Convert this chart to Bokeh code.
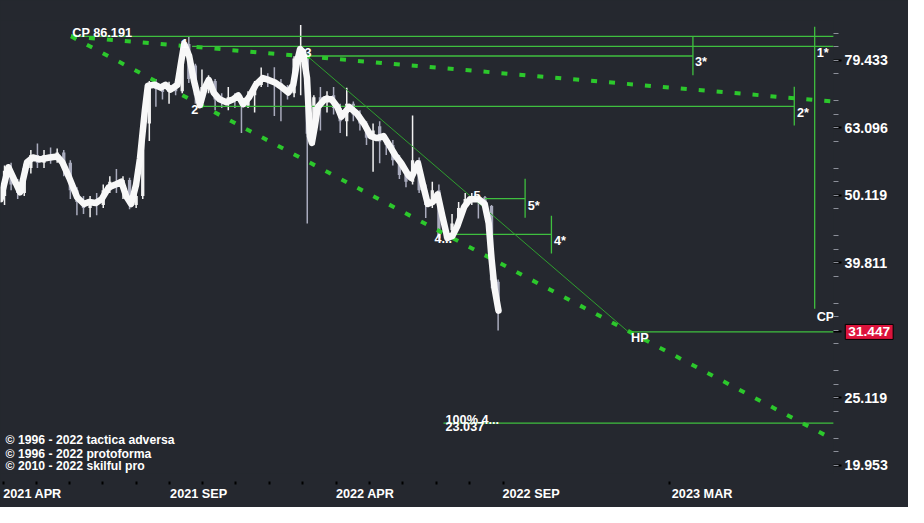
from bokeh.plotting import figure
from bokeh.models import Range1d, FixedTicker, PrintfTickFormatter, Label, ColumnDataSource
from bokeh.core.properties import value
from bokeh.embed import file_html
from bokeh.resources import INLINE

# ---------------- data (weekly bars, x = bar index) ----------------
opens = [50.0, 54.5, 52.0, 50.5, 55.0, 57.5, 56.0, 57.5, 56.5, 58.0,
         56.0, 51.0, 49.0, 48.0, 49.3, 48.5, 51.0, 52.5, 51.5, 52.8,
         48.5, 50.0, 64.0, 73.0, 72.0, 71.3, 72.8, 71.5, 84.0, 78.0,
         70.5, 72.0, 74.0, 69.5, 69.0, 70.0, 69.5, 68.0, 70.5, 73.0,
         74.5, 74.0, 73.5, 72.0, 71.0, 79.0, 80.0, 61.8, 70.0, 69.0,
         70.5, 67.5, 64.5, 68.5, 66.0, 64.0, 61.0, 63.4, 60.2, 59.5,
         56.8, 53.7, 52.5, 56.5, 51.0, 48.5, 51.0, 43.3, 44.5, 45.5,
         48.0, 49.5, 49.8, 49.8, 48.3, 37.3]
highs = [55.5, 56.0, 53.0, 55.8, 58.5, 59.8, 58.5, 59.0, 58.8, 58.5,
         56.5, 51.5, 50.0, 50.0, 50.5, 52.0, 53.5, 54.8, 53.5, 53.2,
         51.0, 64.5, 74.0, 74.5, 73.5, 73.8, 74.0, 84.8, 86.0, 78.5,
         77.0, 75.5, 74.5, 71.0, 72.5, 71.0, 70.5, 71.5, 74.0, 77.5,
         76.0, 77.6, 74.5, 73.0, 80.5, 89.6, 81.0, 70.5, 72.5, 71.5,
         72.5, 68.5, 72.3, 69.0, 67.0, 64.5, 64.0, 64.5, 61.5, 60.5,
         57.5, 55.0, 65.8, 57.0, 52.0, 52.5, 52.0, 45.5, 47.0, 49.0,
         50.5, 50.5, 50.3, 50.0, 48.5, 37.6]
lows = [48.5, 51.0, 49.5, 50.0, 54.0, 55.0, 55.0, 55.8, 56.0, 53.5,
        49.5, 46.8, 47.0, 46.5, 46.8, 48.0, 50.5, 50.5, 49.5, 47.8,
        48.0, 49.5, 60.3, 67.8, 69.5, 68.5, 70.5, 71.0, 73.5, 68.5,
        69.5, 71.0, 67.0, 67.5, 67.0, 67.5, 62.0, 67.5, 66.5, 72.5,
        72.5, 65.7, 64.5, 69.5, 70.0, 70.5, 45.5, 59.5, 62.5, 66.5,
        66.0, 62.0, 61.3, 64.5, 62.5, 59.5, 54.3, 55.9, 57.5, 55.5,
        53.0, 51.5, 52.0, 50.5, 46.4, 48.0, 43.0, 43.0, 43.8, 45.0,
        47.5, 48.5, 46.3, 48.3, 36.5, 31.6]
closes = [54.5, 52.0, 50.5, 55.0, 57.5, 56.0, 57.5, 56.5, 58.0, 56.0,
          51.0, 49.0, 48.0, 49.3, 48.5, 51.0, 52.5, 51.5, 52.8, 48.5,
          50.0, 64.0, 73.0, 72.0, 71.3, 72.8, 71.5, 84.0, 74.5, 70.5,
          72.5, 74.0, 69.5, 69.0, 70.0, 69.5, 68.0, 70.5, 73.0, 74.5,
          74.0, 73.5, 72.0, 71.0, 79.9, 80.5, 61.8, 70.0, 69.0, 70.5,
          67.5, 64.5, 68.5, 66.0, 64.0, 61.0, 62.5, 60.2, 59.5, 56.5,
          53.7, 52.5, 56.5, 51.0, 48.5, 51.0, 43.3, 44.5, 45.5, 48.0,
          49.5, 49.8, 49.0, 48.5, 37.5, 33.5]
bars = list(range(len(closes)))

# smoothed price curve (bar position, price)
smooth_x = [-0.61, 0.58, 2.37, 3.42, 4.31, 5.36, 6.85, 8.04, 8.79, 9.84,
            11.03, 12.07, 12.82, 13.87, 14.76, 15.81, 16.85, 17.75, 18.49, 19.24,
            19.99, 20.58, 21.33, 21.78, 22.82, 23.72, 24.46, 25.21, 26.28, 26.85,
            27.30, 28.04, 28.79, 29.69, 30.43, 31.03, 31.78, 32.67, 33.72, 34.76,
            35.51, 36.25, 37.15, 38.19, 39.24, 40.13, 41.18, 42.22, 43.12, 43.87,
            44.46, 44.91, 45.36, 45.96, 46.40, 46.70, 47.15, 47.60, 48.64, 49.69,
            50.58, 51.18, 52.37, 53.57, 54.61, 55.66, 56.55, 57.60, 58.34, 59.39,
            60.28, 61.33, 61.78, 62.82, 63.57, 64.31, 65.06, 65.81, 66.55, 67.30,
            68.04, 68.79, 69.84, 70.73, 72.07, 72.96, 73.57, 74.01, 74.46, 75.06]
smooth_p = [49.46, 55.16, 50.62, 56.08, 57.02, 56.64, 57.02, 57.21, 56.08, 53.19,
            49.79, 48.65, 48.97, 48.81, 49.46, 51.46, 51.98, 52.49, 49.95, 48.65,
            51.98, 56.83, 67.05, 72.83, 73.07, 72.35, 73.07, 71.87, 73.07, 79.09,
            83.94, 80.68, 74.04, 68.17, 72.35, 74.29, 71.16, 69.53, 68.85, 69.53,
            70.46, 68.39, 69.99, 73.07, 74.78, 74.29, 73.55, 72.35, 71.16, 73.07,
            79.09, 82.56, 81.75, 74.78, 61.33, 59.92, 63.39, 67.72, 69.53, 69.53,
            67.72, 65.52, 67.72, 66.17, 64.02, 61.33, 60.92, 61.33, 59.72, 57.40,
            55.90, 53.72, 53.19, 55.90, 51.98, 48.65, 48.97, 50.28, 46.60, 43.32,
            43.61, 45.08, 48.17, 49.46, 49.46, 48.65, 45.53, 40.28, 36.47, 33.81]

# wave points / projection levels
cp_x, cp_price = 10.1, 86.191
level_names = ["CP", "1", "3", "2", "5", "4", "HP", "100%"]
level_price = [86.191, 83.30, 80.60, 67.86, 49.56, 43.85, 31.447, 23.037]
level_from = [10.1, 28.5, 46.0, 29.7, 73.0, 68.0, 94.8, 66.7]
level_to = [126.0, 126.0, 104.6, 120.0, 79.1, 83.1, 126.0, 126.0]

target_names = ["1*", "3*", "2*", "5*", "4*"]
target_x = [123.1, 104.6, 120.0, 79.1, 83.1]
target_hi = [89.08, 86.19, 72.57, 53.01, 46.75]
target_lo = [34.02, 75.50, 63.59, 46.44, 41.09]

trend_x0, trend_p0, trend_x1, trend_p1 = 46.0, 80.60, 94.8, 31.447
fan_end_x = 126.0
fan_end_p = [69.0, 21.77]

last_price = 31.447
target_100 = 23.037

x_tick_labels = ["2021 APR", "2021 SEP", "2022 APR", "2022 SEP", "2023 MAR"]
x_label_pos = [4.25, 29.5, 54.8, 80.0, 106.0]
x_minor_pos = [-0.2, 4.8, 9.9, 14.9, 20.0, 25.1, 30.1, 35.1, 40.2, 45.3, 50.4,
               55.4, 60.5, 65.6, 70.7, 75.8, 101.0]
y_tick_values = [19.953, 25.119, 31.447, 39.811, 50.119, 63.096, 79.433]

copyright_lines = ["© 1996 - 2022 tactica adversa",
                   "© 1996 - 2022 protoforma",
                   "© 2010 - 2022 skilful pro"]
copyright_y = [21.72, 20.75, 19.87]

# ---------------- styling ----------------
BG = "#25282f"
GREEN = "#3fbf3f"
GREEN_DASH = "#2cc82c"
GREEN_DARK = "#2f9f2f"
UP = "#f2f2f2"
DOWN = "#a9abbd"
FONT = "Liberation Sans"

p = figure(width=908, height=507,
           x_range=Range1d(-0.612, 125.96), y_range=Range1d(19.40, 90.98),
           y_axis_type="log", y_axis_location="right",
           output_backend="svg", toolbar_location=None,
           min_border_left=0, min_border_top=20, min_border_right=75, min_border_bottom=34,
           background_fill_color=BG, border_fill_color=BG, outline_line_color=None)
p.styles = {"background-color": BG}
p.grid.visible = False

# candles
col = [UP if c >= o else DOWN for o, c in zip(opens, closes)]
src = ColumnDataSource(dict(x=bars, o=opens, h=highs, l=lows, c=closes,
                            top=[max(o, c) for o, c in zip(opens, closes)],
                            bot=[min(o, c) for o, c in zip(opens, closes)], col=col))
p.segment(x0="x", y0="h", x1="x", y1="l", source=src, line_color="col", line_width=1.5)
p.vbar(x="x", width=0.5, top="top", bottom="bot", source=src, fill_color="col", line_color=None)

# horizontal levels
p.segment(x0=level_from, y0=level_price, x1=level_to, y1=level_price, line_color=GREEN, line_width=1.3)
# target verticals
p.segment(x0=target_x, y0=target_hi, x1=target_x, y1=target_lo, line_color=GREEN, line_width=1.3)
# trend line 3 -> HP
p.line([trend_x0, trend_x1], [trend_p0, trend_p1], line_color=GREEN_DARK, line_width=1)
# fan lines from CP
for ep in fan_end_p:
    p.line([cp_x, fan_end_x], [cp_price, ep], line_color=GREEN_DASH, line_width=4, line_dash="6 12")

# smoothed price
p.line(smooth_x, smooth_p, line_color="#f8f8f8", line_width=6.5, line_join="round", line_cap="round")

# labels
lab = dict(
    text=["CP 86.191", "1", "3", "5", "100%  4...",
          "2", "4...", "5*", "4*", "3*", "2*", "1*", "CP", "HP", "23.037"],
    x=[10.3, 27.4, 46.1, 71.8, 67.0,
       28.9, 68.0, 79.5, 83.5, 104.9, 120.4, 123.4, 123.4, 95.2, 67.0],
    y=[cp_price, 83.30, 80.60, 49.56, target_100,
       67.86, 43.85, 49.56, 43.85, 80.60, 67.86, 83.30, 34.02, last_price, target_100],
)
sty = dict(
    align=["left", "center", "center", "center", "left",
           "center", "right", "left", "left", "left", "left", "left", "left", "left", "left"],
    base=["alphabetic"] * 5 + ["top"] * 10,
    dy=[-3, -3, -4, -3.5, -3,
        -1, 0, 0, 0, -1, 0, 0, 1, -1, -1],
)
lsrc = ColumnDataSource(dict(**lab, **sty))
p.text(x="x", y="y", text="text", source=lsrc, text_align="align", text_baseline="base",
       y_offset="dy", text_color="white", text_font=value(FONT), text_font_style="bold",
       text_font_size="12.7px")

# copyright
p.text(x=[0.16] * 3, y=copyright_y, text=copyright_lines, text_color="white",
       text_font=value(FONT), text_font_style="bold", text_font_size="12.2px",
       text_align="left", text_baseline="alphabetic")

# axes
ya = p.yaxis[0]
minor_y = [10 ** (1.28 + 0.02 * i) for i in range(36) if (i + 1) % 5 != 0]
ya.ticker = FixedTicker(ticks=y_tick_values, minor_ticks=minor_y)
ya.formatter = PrintfTickFormatter(format="%.3f")
ya.major_label_overrides = {last_price: ""}
ya.axis_line_color = None
ya.major_tick_line_color = "black"
ya.major_tick_line_width = 2
ya.major_tick_in = 0
ya.major_tick_out = 8
ya.minor_tick_line_color = "#8c8f99"
ya.minor_tick_in = 0
ya.minor_tick_out = 5
ya.major_label_standoff = 3
ya.major_label_text_color = "white"
ya.major_label_text_font = FONT
ya.major_label_text_font_style = "bold"
ya.major_label_text_font_size = "14.2px"

xa = p.xaxis[0]
xa.ticker = FixedTicker(ticks=x_label_pos, minor_ticks=x_minor_pos)
xa.major_label_overrides = {v: t for v, t in zip(x_label_pos, x_tick_labels)}
xa.axis_line_color = None
xa.major_tick_line_color = None
xa.major_tick_in = 0
xa.major_tick_out = 0
xa.minor_tick_line_color = "black"
xa.minor_tick_line_width = 2
xa.minor_tick_in = -8
xa.minor_tick_out = 11
xa.major_label_standoff = 2
xa.major_label_text_color = "white"
xa.major_label_text_font = FONT
xa.major_label_text_font_style = "bold"
xa.major_label_text_font_size = "12.7px"

# last price box on the price axis (placed in a side panel so it is not clipped)
p.add_layout(Label(x=127.75, y=last_price, text=f"{last_price:.3f}", text_color="white",
                   text_font=FONT, text_font_style="bold", text_font_size="13.7px",
                   text_align="left", text_baseline="middle",
                   background_fill_color="#dc143c", border_line_color="black",
                   border_line_width=1, padding=3), "above")

open("out.html", "w").write(file_html(p, INLINE))
